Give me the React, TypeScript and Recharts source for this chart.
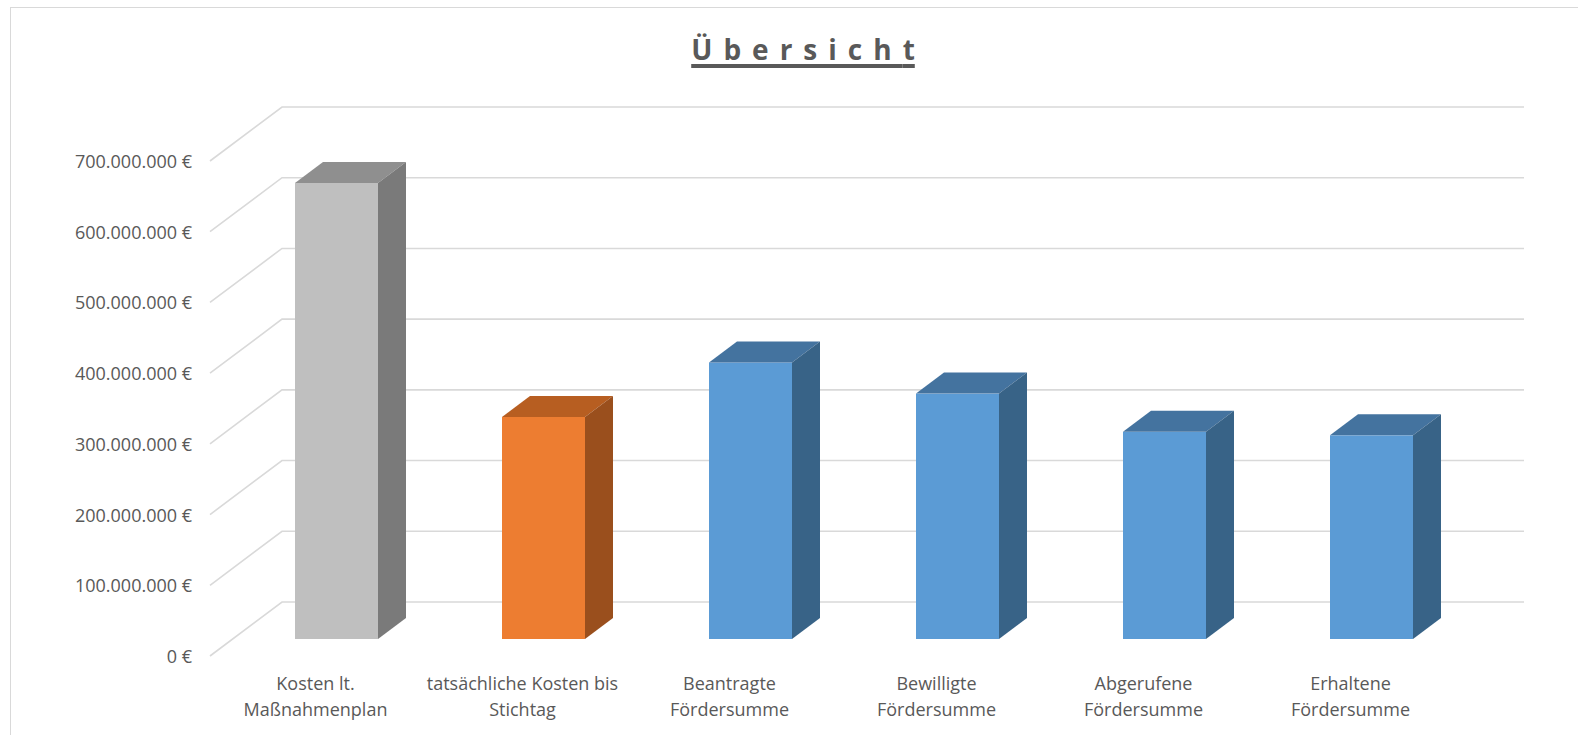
import React from 'react';
import { BarChart, Bar, XAxis, YAxis, CartesianGrid } from 'recharts';

const categories = [
  'Kosten lt.\nMaßnahmenplan',
  'tatsächliche Kosten bis\nStichtag',
  'Beantragte\nFördersumme',
  'Bewilligte\nFördersumme',
  'Abgerufene\nFördersumme',
  'Erhaltene\nFördersumme',
];
const values = [645000000, 314000000, 391000000, 347000000, 293000000, 288000000];
const yTicks = [0, 100000000, 200000000, 300000000, 400000000, 500000000, 600000000, 700000000];

const frontColors = ['#BFBFBF', '#ED7D31', '#5B9BD5', '#5B9BD5', '#5B9BD5', '#5B9BD5'];
const topColors = ['#8F8F8F', '#B75E21', '#44739F', '#44739F', '#44739F', '#44739F'];
const sideColors = ['#7A7A7A', '#9A4F1D', '#386387', '#386387', '#386387', '#386387'];

const data = categories.map((c, i) => ({ name: c, value: values[i] }));

const W = 1578;
const H = 735;
const WALL_DX = 72;
const WALL_DY = -54;
const BAR_DX = 23;
const BAR_DY = -17;
const BAR_DEPTH_X = 28;
const BAR_DEPTH_Y = -21;
const TEXT = '#595959';
const FONT = '"Open Sans", sans-serif';

function fmt(v: number): string {
  const s = Math.round(v).toString();
  return s.replace(/\B(?=(\d{3})+(?!\d))/g, '.') + ' €';
}

const GridLine = (props: any) => {
  const { x1, y1, x2, index } = props;
  return (
    <g key={`g-${index}-${y1}`}>
      <polyline
        points={`${x1},${y1} ${x1 + WALL_DX},${y1 + WALL_DY} ${x2 + WALL_DX},${y1 + WALL_DY}`}
        fill="none"
        stroke="#D9D9D9"
        strokeWidth={1.6}
      />
    </g>
  );
};

const Bar3D = (props: any) => {
  const { x, y, width, height, index } = props;
  if (height == null || width == null) return null;
  const fx = x + BAR_DX;
  const fy = y + BAR_DY;
  const w = width;
  const h = height;
  const dx = BAR_DEPTH_X;
  const dy = BAR_DEPTH_Y;
  return (
    <g>
      <rect x={fx} y={fy} width={w} height={h} fill={frontColors[index]} />
      <polygon
        points={`${fx},${fy} ${fx + dx},${fy + dy} ${fx + w + dx},${fy + dy} ${fx + w},${fy}`}
        fill={topColors[index]}
      />
      <polygon
        points={`${fx + w},${fy} ${fx + w + dx},${fy + dy} ${fx + w + dx},${fy + h + dy} ${fx + w},${fy + h}`}
        fill={sideColors[index]}
      />
    </g>
  );
};

const XTick = (props: any) => {
  const { x, y, payload } = props;
  const lines = String(payload.value).split('\n');
  return (
    <g>
      {lines.map((l, i) => (
        <text
          key={i}
          x={x + 2}
          y={y + 27 + i * 26}
          textAnchor="middle"
          dominantBaseline="central"
          fill={TEXT}
          fontFamily={FONT}
          fontSize={18}
        >
          {l}
        </text>
      ))}
    </g>
  );
};

const YTick = (props: any) => {
  const { x, y, payload } = props;
  return (
    <text
      x={x}
      y={y}
      textAnchor="end"
      dominantBaseline="central"
      fill={TEXT}
      fontFamily={FONT}
      fontSize={18}
    >
      {fmt(payload.value)}
    </text>
  );
};

export default function App() {
  return (
    <div
      style={{
        position: 'absolute',
        left: 0,
        top: 0,
        width: W,
        height: H,
        overflow: 'hidden',
        background: '#FFFFFF',
      }}
    >
      <div
        style={{
          position: 'absolute',
          left: 10,
          top: 7,
          width: W + 40,
          height: H + 40,
          border: '1.5px solid #D9D9D9',
          boxSizing: 'border-box',
        }}
      />
      <div
        style={{
          position: 'absolute',
          left: 0,
          top: 30,
          width: 1606,
          textAlign: 'center',
          fontFamily: FONT,
          fontWeight: 700,
          fontSize: 28,
          lineHeight: '38px',
          color: TEXT,
        }}
      >
        <span
          style={{
            textDecoration: 'underline',
            textDecorationThickness: '4px',
            textUnderlineOffset: '4px',
            letterSpacing: '11px',
          }}
        >
          Übersich<span style={{ letterSpacing: 0 }}>t</span>
        </span>
      </div>
      <div style={{ position: 'absolute', left: 0, top: 0 }}>
        <BarChart
          width={W}
          height={H}
          data={data}
          margin={{ top: 161, right: 126, bottom: 19, left: 10 }}
          barSize={83}
        >
          <CartesianGrid vertical={false} horizontal={GridLine} />
          <XAxis
            dataKey="name"
            axisLine={false}
            tickLine={false}
            tickSize={0}
            tickMargin={0}
            height={60}
            interval={0}
            tick={<XTick />}
          />
          <YAxis
            type="number"
            domain={[0, 700000000]}
            ticks={yTicks}
            axisLine={false}
            tickLine={false}
            tickSize={0}
            tickMargin={18}
            width={200}
            interval={0}
            tick={<YTick />}
          />
          <Bar dataKey="value" isAnimationActive={false} shape={<Bar3D />} />
        </BarChart>
      </div>
    </div>
  );
}
